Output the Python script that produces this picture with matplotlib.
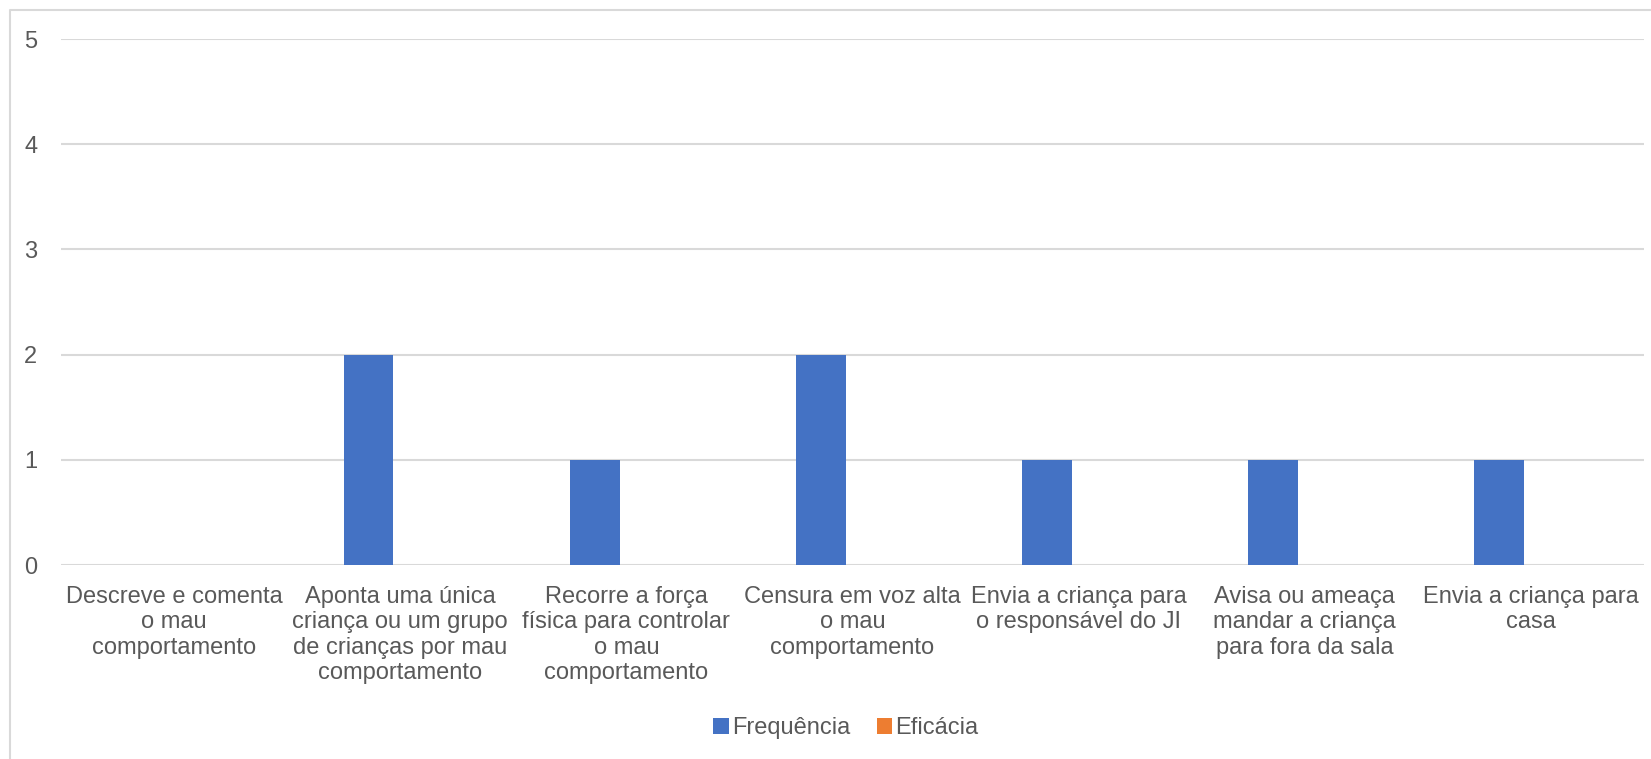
import matplotlib.pyplot as plt
import numpy as np
from matplotlib.lines import Line2D

# dados
categorias = [
    "Descreve e comenta\no mau\ncomportamento",
    "Aponta uma única\ncriança ou um grupo\nde crianças por mau\ncomportamento",
    "Recorre a força\nfísica para controlar\no mau\ncomportamento",
    "Censura em voz alta\no mau\ncomportamento",
    "Envia a criança para\no responsável do JI",
    "Avisa ou ameaça\nmandar a criança\npara fora da sala",
    "Envia a criança para\ncasa",
]
frequencia = [0, 2, 1, 2, 1, 1, 1]
eficacia = [0, 0, 0, 0, 0, 0, 0]
series = ["Frequência", "Eficácia"]
y_ticks = [0, 1, 2, 3, 4, 5]

plt.rcParams['font.family'] = ['Liberation Sans', 'DejaVu Sans']
cinza = '#595959'

fig = plt.figure(figsize=(16.51, 7.59), dpi=100)
ax = fig.add_axes([61 / 1651, 1 - 565 / 759, (1644 - 61) / 1651, (565 - 39) / 759])

x = np.arange(len(categorias))
w = 0.22
ax.bar(x - 0.14, frequencia, width=w, color='#4472C4', label=series[0], zorder=3)
ax.bar(x + 0.08, eficacia, width=w, color='#ED7D31', label=series[1], zorder=3)

ax.set_xlim(-0.5, len(categorias) - 0.5)
ax.set_ylim(0, 5)
ax.set_yticks(y_ticks)
ax.set_xticks(x)
ax.set_xticklabels(categorias, fontsize=17, color=cinza, linespacing=1.2)
ax.tick_params(axis='y', labelsize=17, labelcolor=cinza, length=0, pad=17)
ax.tick_params(axis='x', length=0, pad=15)
for v in y_ticks:
    ax.axhline(v, color='#D9D9D9', lw=1.5, zorder=1)
for s in ax.spines.values():
    s.set_visible(False)

leg = fig.legend(loc='center', bbox_to_anchor=(846 / 1651, 1 - 728 / 759), ncol=2,
                 frameon=False, fontsize=17, handlelength=0.65, handleheight=0.65,
                 handletextpad=0.15, columnspacing=1.1)
for t in leg.get_texts():
    t.set_color(cinza)

# moldura do gráfico (só esquerda e topo visíveis)
fig.add_artist(Line2D([10 / 1651, 10 / 1651, 1], [0, 1 - 10 / 759, 1 - 10 / 759],
                      transform=fig.transFigure, color='#D9D9D9', lw=1.5))

fig.savefig('out.png', dpi=100)
